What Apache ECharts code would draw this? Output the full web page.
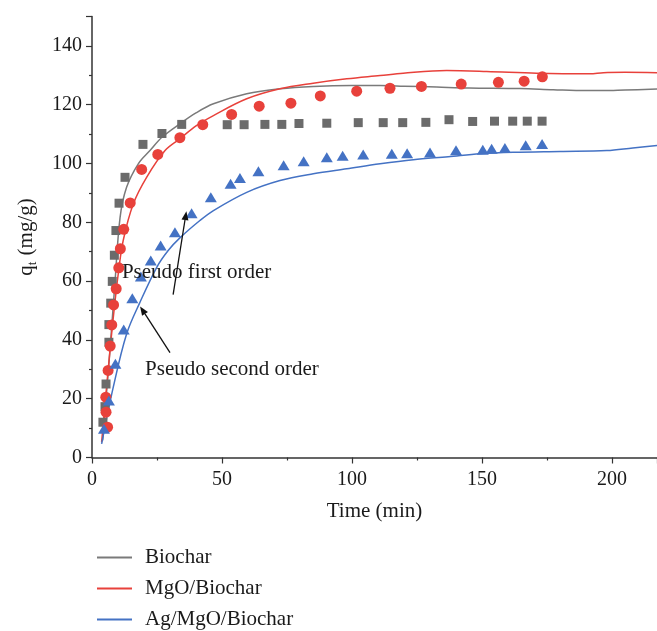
<!DOCTYPE html>
<html>
<head>
<meta charset="utf-8">
<script src="https://cdn.jsdelivr.net/npm/echarts@6/dist/echarts.min.js"></script>
<style>
  html, body { margin: 0; padding: 0; background: #ffffff; }
  #chart { width: 657px; height: 631px; }
</style>
</head>
<body>
<div id="chart"></div>
<script>
// Measured adsorption capacity q_t (mg/g) versus contact time (min)
const biocharTime = [4.2, 5.0, 5.4, 6.5, 6.5, 7.2, 7.8, 8.6, 9.2, 10.4, 12.7, 19.6, 26.9, 34.5, 52.0, 58.5, 66.5, 73.0, 79.6, 90.3, 102.4, 112.0, 119.5, 128.4, 137.3, 146.4, 154.8, 161.8, 167.4, 173.1];
const biocharQt   = [12.0, 17.3, 25.0, 39.2, 45.2, 52.5, 59.9, 68.8, 77.2, 86.5, 95.3, 106.5, 110.2, 113.3, 113.2, 113.2, 113.3, 113.3, 113.6, 113.7, 113.9, 113.9, 113.9, 114.0, 114.9, 114.3, 114.4, 114.4, 114.4, 114.4];

const mgoTime = [6.0, 5.4, 5.3, 6.2, 7.0, 7.6, 8.3, 9.3, 10.3, 10.9, 12.2, 14.7, 19.1, 25.3, 33.8, 42.6, 53.7, 64.3, 76.5, 87.8, 101.8, 114.6, 126.7, 142.0, 156.3, 166.2, 173.2];
const mgoQt   = [10.3, 15.4, 20.5, 29.6, 37.9, 45.1, 51.9, 57.4, 64.5, 71.0, 77.6, 86.6, 98.0, 103.1, 108.8, 113.2, 116.7, 119.5, 120.5, 123.0, 124.6, 125.6, 126.2, 127.0, 127.6, 128.0, 129.5];

const agTime = [4.6, 6.5, 9.0, 12.2, 15.5, 18.8, 22.6, 26.4, 31.9, 38.3, 45.7, 53.3, 56.9, 64.0, 73.7, 81.4, 90.3, 96.4, 104.3, 115.3, 121.2, 130.0, 140.0, 150.3, 153.7, 158.8, 166.8, 173.1];
const agQt   = [9.8, 19.4, 31.9, 43.5, 54.2, 61.6, 67.0, 72.1, 76.6, 83.1, 88.5, 93.1, 95.1, 97.4, 99.4, 100.8, 102.1, 102.6, 103.1, 103.3, 103.5, 103.7, 104.5, 104.7, 105.0, 105.3, 106.2, 106.6];

// Kinetic model curves
const biocharFitTime = [4.1, 5.5, 6.9, 8.8, 10.8, 13.3, 17.8, 22.3, 27, 33.8, 40, 46.7, 59.5, 72.3, 85.1, 100, 110.8, 120, 132.6, 145, 164.6, 177.4, 190, 196.7, 205, 217.3];
const biocharFitQt   = [5.8, 21, 36.4, 59.1, 81.7, 91.9, 99.9, 104.4, 109, 113.5, 117.2, 120.3, 123.7, 125.4, 126.2, 126.5, 126.5, 126.3, 126, 125.7, 125.5, 125.1, 124.8, 124.8, 125, 125.3];

const mgoFitTime = [3.7, 6.3, 8.2, 10.1, 12, 15.9, 21, 28.1, 33.8, 40, 46.7, 59.5, 72.3, 85.1, 98, 110.8, 119.7, 136.4, 151.8, 171, 191.5, 196.7, 205, 217.3];
const mgoFitQt   = [5.2, 30.7, 47.7, 62.5, 73.8, 86.3, 95.3, 104.4, 108.4, 112.8, 116.3, 122, 125.4, 127.3, 128.8, 129.9, 130.7, 131.6, 131.3, 130.7, 130.5, 130.9, 131, 130.9];

const agFitTime = [3.7, 8.2, 13.3, 18.3, 24.9, 29.3, 33.8, 41.5, 46.7, 59.5, 72.3, 85.1, 98, 110.8, 123.6, 137, 149.2, 162, 180, 198, 208, 217.3];
const agFitQt   = [4.6, 24, 42, 52.5, 64.7, 70.4, 74.7, 80.6, 84, 90.2, 94.2, 96.5, 98.2, 99.9, 101.3, 102.3, 103.3, 103.8, 104.1, 104.4, 105.3, 106.1];

const seriesNames = ['Biochar', 'MgO/Biochar', 'Ag/MgO/Biochar'];
const xTicks = { min: 0, max: 217.3, step: 50 };
const yTicks = { min: 0, max: 150, step: 20 };

// Annotation text and arrows, given in data coordinates
const noteTexts = [
  { text: 'Pseudo first order',  at: [11.5, 62.9] },
  { text: 'Pseudo second order', at: [20.4, 29.9] }
];
const noteArrows = [
  { from: [31.2, 55.4], to: [36.3, 83.8] },
  { from: [30.0, 35.7], to: [18.5, 51.4] }
];

const pair = (xs, ys) => xs.map((x, i) => [x, ys[i]]);
const FONT = '"Liberation Serif", "DejaVu Serif", serif';
const colors = { gray: '#6b6b6b', grayLine: '#7a7a7a', red: '#e8413b', blue: '#4472c4' };

const chart = echarts.init(document.getElementById('chart'), null, { renderer: 'canvas' });

const lineBase = {
  type: 'line',
  showSymbol: false,
  symbol: 'none',
  smooth: 0.35,
  z: 2
};

const option = {
  backgroundColor: '#ffffff',
  animation: false,
  textStyle: { fontFamily: FONT },
  grid: { left: 92, right: 0, top: 16.5, bottom: 173.5, containLabel: false },
  legend: {
    data: seriesNames,
    orient: 'vertical',
    left: 97,
    top: 547,
    padding: 0,
    itemWidth: 35,
    itemHeight: 2,
    itemGap: 10,
    icon: 'rect',
    textStyle: { fontFamily: FONT, fontSize: 21, color: '#1a1a1a', padding: [0, 0, 0, 8], lineHeight: 21 }
  },
  xAxis: {
    type: 'value',
    min: xTicks.min,
    max: xTicks.max,
    interval: xTicks.step,
    name: 'Time (min)',
    nameLocation: 'middle',
    nameGap: 43,
    nameTextStyle: { fontFamily: FONT, fontSize: 21, color: '#1a1a1a' },
    axisLine: { show: true, onZero: false, lineStyle: { color: '#333', width: 1.5 } },
    axisTick: { show: true, inside: false, length: 6, lineStyle: { color: '#333', width: 1.2 } },
    minorTick: { show: true, splitNumber: 2, length: 3, lineStyle: { color: '#333', width: 1.2 } },
    axisLabel: { fontFamily: FONT, fontSize: 20, color: '#1a1a1a', margin: 12, showMaxLabel: false },
    splitLine: { show: false }
  },
  yAxis: {
    type: 'value',
    min: yTicks.min,
    max: yTicks.max,
    interval: yTicks.step,
    name: '{q|q}{t|t}{q| (mg/g)}',
    nameLocation: 'middle',
    nameRotate: 90,
    nameGap: 44,
    nameTextStyle: {
      fontFamily: FONT,
      color: '#1a1a1a',
      rich: {
        q: { fontFamily: FONT, fontSize: 21, color: '#1a1a1a', lineHeight: 30, verticalAlign: 'middle' },
        t: { fontFamily: FONT, fontSize: 13, color: '#1a1a1a', lineHeight: 30, verticalAlign: 'bottom', padding: [0, 1, 2, 0] }
      }
    },
    axisLine: { show: true, onZero: false, lineStyle: { color: '#333', width: 1.5 } },
    axisTick: { show: true, inside: false, length: 6, lineStyle: { color: '#333', width: 1.2 } },
    minorTick: { show: true, splitNumber: 2, length: 3, lineStyle: { color: '#333', width: 1.2 } },
    axisLabel: { fontFamily: FONT, fontSize: 20, color: '#1a1a1a', margin: 10, showMaxLabel: false },
    splitLine: { show: false }
  },
  series: [
    Object.assign({}, lineBase, {
      name: seriesNames[0],
      data: pair(biocharFitTime, biocharFitQt),
      lineStyle: { color: colors.grayLine, width: 1.5 },
      itemStyle: { color: colors.grayLine }
    }),
    Object.assign({}, lineBase, {
      name: seriesNames[1],
      data: pair(mgoFitTime, mgoFitQt),
      lineStyle: { color: colors.red, width: 1.5 },
      itemStyle: { color: colors.red }
    }),
    Object.assign({}, lineBase, {
      name: seriesNames[2],
      data: pair(agFitTime, agFitQt),
      lineStyle: { color: colors.blue, width: 1.5 },
      itemStyle: { color: colors.blue }
    }),
    {
      type: 'scatter',
      name: 'Biochar data',
      data: pair(biocharTime, biocharQt),
      symbol: 'rect',
      symbolSize: 9,
      itemStyle: { color: colors.gray, opacity: 1 },
      z: 3
    },
    {
      type: 'scatter',
      name: 'MgO/Biochar data',
      data: pair(mgoTime, mgoQt),
      symbol: 'circle',
      symbolSize: 11,
      itemStyle: { color: colors.red, opacity: 1 },
      z: 3
    },
    {
      type: 'scatter',
      name: 'Ag/MgO/Biochar data',
      data: pair(agTime, agQt),
      symbol: 'triangle',
      symbolSize: [12, 10],
      itemStyle: { color: colors.blue, opacity: 1 },
      z: 3
    }
  ]
};

chart.setOption(option);

// Place the annotation labels and arrows through the axis scales
const toPx = (p) => chart.convertToPixel({ gridIndex: 0 }, p);
const graphics = [];
noteTexts.forEach((n) => {
  const [x, y] = toPx(n.at);
  graphics.push({
    type: 'text', x: x, y: y, z: 10,
    style: { text: n.text, font: '21px ' + FONT, fill: '#1a1a1a', verticalAlign: 'middle', align: 'left' }
  });
});
noteArrows.forEach((a) => {
  const [x1, y1] = toPx(a.from);
  const [x2, y2] = toPx(a.to);
  const ang = Math.atan2(y2 - y1, x2 - x1);
  const headLen = 9, headHalf = 3.5;
  const bx = x2 - headLen * Math.cos(ang), by = y2 - headLen * Math.sin(ang);
  const nx = -Math.sin(ang), ny = Math.cos(ang);
  graphics.push({
    type: 'line', z: 10,
    shape: { x1: x1, y1: y1, x2: bx, y2: by },
    style: { stroke: '#111', lineWidth: 1.3 }
  });
  graphics.push({
    type: 'polygon', z: 10,
    shape: { points: [[x2, y2], [bx + nx * headHalf, by + ny * headHalf], [bx - nx * headHalf, by - ny * headHalf]] },
    style: { fill: '#111' }
  });
});
chart.setOption({ graphic: graphics });
</script>
</body>
</html>
